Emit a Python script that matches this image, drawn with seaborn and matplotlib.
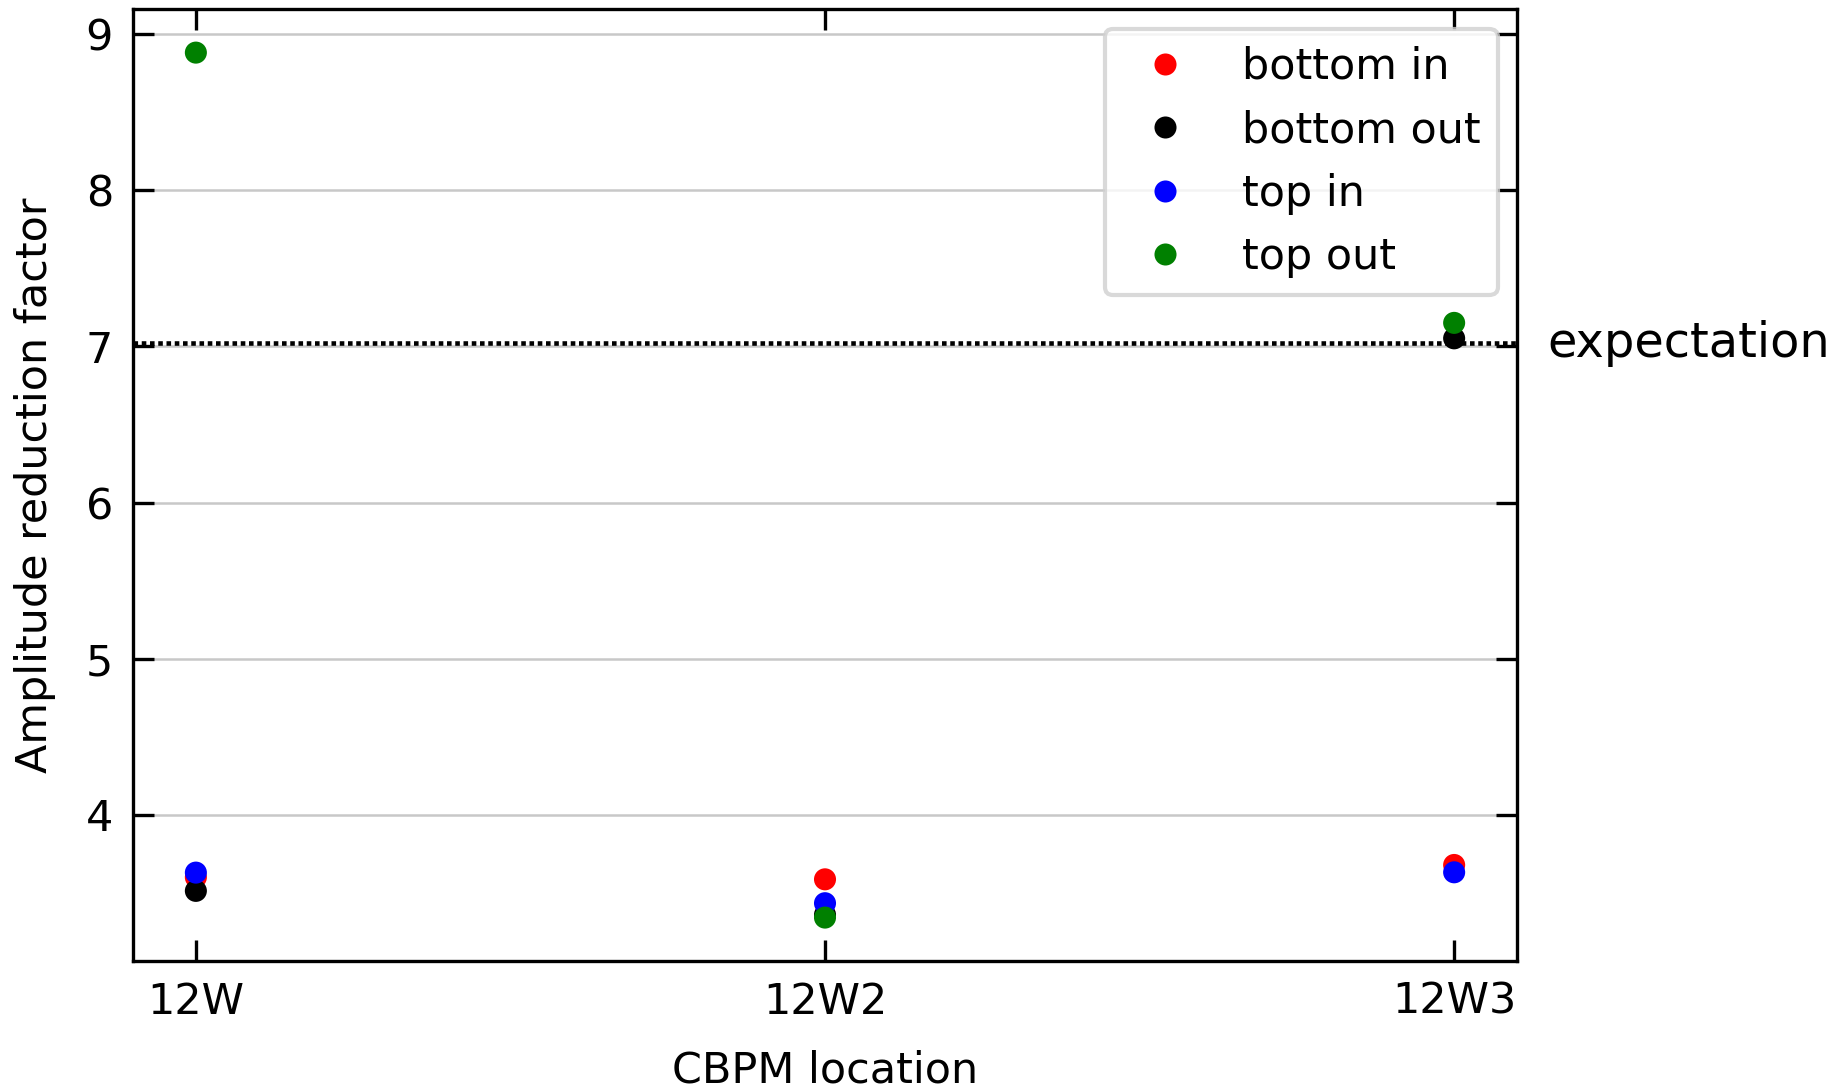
import numpy as np
import pandas as pd
import matplotlib
matplotlib.use("Agg")
import matplotlib.pyplot as plt
import matplotlib.transforms as mtransforms
import seaborn as sns

locations = ["12W", "12W2", "12W3"]
series_names = ["bottom in", "bottom out", "top in", "top out"]
bottom_in = [3.60, 3.587, 3.679]
bottom_out = [3.513, 3.36, 7.052]
top_in = [3.63, 3.434, 3.632]
top_out = [8.882, 3.342, 7.151]
colors = ["red", "black", "blue", "green"]
expectation = 7.02

rows = []
for name, vals in zip(series_names, [bottom_in, bottom_out, top_in, top_out]):
    for loc, v in zip(locations, vals):
        rows.append({"location": loc, "factor": v, "series": name})
df = pd.DataFrame(rows)

sns.set_style("white")
plt.rcParams["font.family"] = ["DejaVu Sans"]
plt.rcParams["font.size"] = 10.3
for k in ["text.color", "axes.labelcolor", "xtick.color", "ytick.color"]:
    plt.rcParams[k] = "black"

fs = 10.3
fig = plt.figure(figsize=(1844 / 300, 1089 / 300), dpi=300)
ax = fig.add_axes([0.0721, 0.1177, 0.8227 - 0.0721, 0.9914 - 0.1177])

sns.scatterplot(data=df, x="location", y="factor", hue="series",
                hue_order=series_names, palette=colors, s=28, linewidth=0,
                ax=ax, zorder=3)

ax.axhline(expectation, color="black", linestyle=(0, (1, 0.8)), linewidth=1.1, zorder=2)
trans = mtransforms.blended_transform_factory(ax.transAxes, ax.transData)
ax.text(1.022, expectation, "expectation", transform=trans, va="center", ha="left",
        fontsize=11.5, color="black")

ax.set_xlim(-0.1, 2.1)
ax.yaxis.grid(True, color="#c8c8c8", linewidth=0.6)
ax.xaxis.grid(False)
ax.set_axisbelow(True)
for sp in ax.spines.values():
    sp.set_visible(True)
    sp.set_color("black")
    sp.set_linewidth(0.8)
ax.tick_params(direction="in", length=5, width=0.8, top=True, right=True,
               bottom=True, left=True, labelsize=fs, colors="black", pad=4.8)
ax.set_yticks([4, 5, 6, 7, 8, 9])
ax.set_xlabel("CBPM location", fontsize=fs, labelpad=6.5)
ax.set_ylabel("Amplitude reduction factor", fontsize=fs, labelpad=7)

leg = ax.legend(loc="upper right", fontsize=fs, frameon=True, title=None,
                markerscale=1.0, borderaxespad=0.45)
leg.get_frame().set_edgecolor("#d0d0d0")
for t in leg.get_texts():
    t.set_color("black")

fig.savefig("out.png", dpi=300)
